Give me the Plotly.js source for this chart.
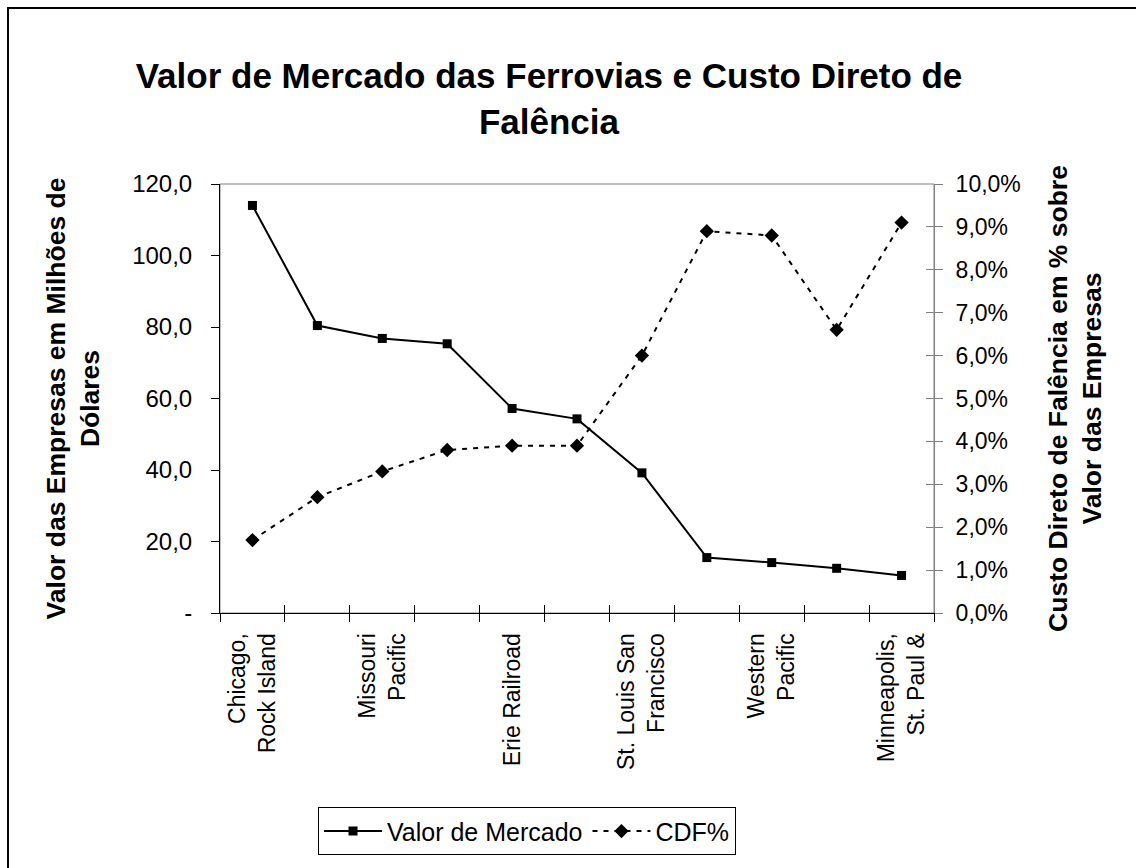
<!DOCTYPE html>
<html>
<head>
<meta charset="utf-8">
<script src="https://cdn.plot.ly/plotly-3.0.1.min.js"></script>
<style>
  html, body { margin: 0; padding: 0; background: #fff; overflow: hidden; }
  #chart { position: absolute; left: 0; top: 0; width: 1136px; height: 868px; }
  #frame { position: absolute; left: 7px; top: 7px; width: 1200px; height: 1000px;
           border: 2px solid #000; pointer-events: none; }
</style>
</head>
<body>
<div id="chart"></div>
<div id="frame"></div>
<script>
// ---- data ----
const railroadIndex = [1, 2, 3, 4, 5, 6, 7, 8, 9, 10, 11];
const valorMercado = [114.0, 80.4, 76.8, 75.3, 57.2, 54.3, 39.2, 15.5, 14.1, 12.5, 10.5];
const cdfPct = [0.017, 0.027, 0.033, 0.038, 0.039, 0.039, 0.060, 0.089, 0.088, 0.066, 0.091];
const labelIndex = [1, 3, 5, 7, 9, 11];
const categoryLabels = ["Chicago,<br>Rock Island", "Missouri<br>Pacific", "Erie Railroad",
                        "St. Louis San<br>Francisco", "Western<br>Pacific", "Minneapolis,<br>St. Paul &"];
const leftTickVals = [0, 20, 40, 60, 80, 100, 120];
const leftTickText = ["-", "20,0", "40,0", "60,0", "80,0", "100,0", "120,0"];
const seriesNames = ["Valor de Mercado", "CDF%"];

const boundaries = [];
for (let i = 0; i <= railroadIndex.length; i++) boundaries.push(railroadIndex[0] - 0.5 + i);
const xRange = [railroadIndex[0] - 0.5, railroadIndex[railroadIndex.length - 1] + 0.5];

const FONT = "Liberation Sans, Arial, sans-serif";

const traces = [
  { x: railroadIndex, y: valorMercado, name: seriesNames[0], type: "scatter", mode: "lines+markers",
    line: { color: "#000", width: 2 }, marker: { symbol: "square", size: 9, color: "#000" },
    xaxis: "x", yaxis: "y" },
  { x: railroadIndex, y: cdfPct, name: seriesNames[1], type: "scatter", mode: "lines+markers",
    line: { color: "#000", width: 2, dash: "5px,6px" }, marker: { symbol: "diamond", size: 11, color: "#000" },
    xaxis: "x", yaxis: "y2" },
  { x: [], y: [], xaxis: "x2", yaxis: "y", showlegend: false, hoverinfo: "skip" },
  { x: [], y: [], xaxis: "x3", yaxis: "y", showlegend: false, hoverinfo: "skip" },
  { x: [], y: [], xaxis: "x", yaxis: "y3", showlegend: false, hoverinfo: "skip" }
];

const layout = {
  width: 1136, height: 868,
  margin: { l: 220, r: 202, t: 184, b: 249, pad: 0 },
  paper_bgcolor: "#fff", plot_bgcolor: "#fff",
  separators: ",.",
  font: { family: FONT, size: 23, color: "#000" },
  showlegend: true,
  title: {
    text: "<b>Valor de Mercado das Ferrovias e Custo Direto de<br>Falência</b>",
    font: { family: FONT, size: 35, color: "#000" },
    x: 549 / 1136, xanchor: "center", xref: "container",
    y: 1 - 88 / 868, yanchor: "top", yref: "container"
  },
  xaxis: {
    range: xRange, tickmode: "array", tickvals: labelIndex, ticktext: categoryLabels,
    tickangle: -90, ticks: "", showgrid: false, zeroline: false,
    showline: true, linecolor: "#000", linewidth: 1,
    tickfont: { family: FONT, size: 23, color: "#000" }, ticklabelstandoff: 10
  },
  xaxis2: {
    overlaying: "x", anchor: "y", side: "bottom", range: xRange,
    tickmode: "array", tickvals: boundaries, ticks: "outside", ticklen: 8, tickcolor: "#000",
    showticklabels: false, showgrid: false, zeroline: false, showline: false
  },
  xaxis3: {
    overlaying: "x", anchor: "y", side: "bottom", range: xRange,
    tickmode: "array", tickvals: boundaries, ticks: "inside", ticklen: 8, tickcolor: "#000",
    showticklabels: false, showgrid: false, zeroline: false, showline: false
  },
  yaxis: {
    range: [0, 120], tickmode: "array", tickvals: leftTickVals, ticktext: leftTickText,
    ticks: "outside", ticklen: 8, tickcolor: "#000",
    showline: true, linecolor: "#000", linewidth: 1, showgrid: false, zeroline: false,
    tickfont: { family: FONT, size: 24, color: "#000" }, ticklabelstandoff: 14,
    title: { text: "<b>Valor das Empresas em Milhões de<br>Dólares</b>",
             font: { family: FONT, size: 26.5, color: "#000" }, standoff: 24 }
  },
  yaxis2: {
    overlaying: "y", side: "right", anchor: "x", range: [0, 0.1], dtick: 0.01, tick0: 0,
    tickformat: ".1%", ticks: "outside", ticklen: 8, tickcolor: "#808080",
    showline: true, linecolor: "#808080", linewidth: 1, showgrid: false, zeroline: false,
    tickfont: { family: FONT, size: 23, color: "#000" }, ticklabelstandoff: 8,
    title: { text: "<b>Custo Direto de Falência em % sobre<br>Valor das Empresas</b>",
             font: { family: FONT, size: 26.5, color: "#000" }, standoff: 28 }
  },
  yaxis3: {
    overlaying: "y", side: "right", anchor: "x", range: [0, 0.1], dtick: 0.01, tick0: 0,
    ticks: "inside", ticklen: 8, tickcolor: "#808080", showticklabels: false,
    showline: false, showgrid: false, zeroline: false
  },
  shapes: [
    { type: "rect", xref: "paper", yref: "paper", x0: 0, x1: 1, y0: 0, y1: 1,
      line: { color: "#808080", width: 1 }, layer: "below" }
  ],
  legend: {
    orientation: "h", x: (318 - 220) / 714, xanchor: "left", y: (619 - 816) / 435, yanchor: "top",
    bordercolor: "#000", borderwidth: 1, bgcolor: "#fff",
    font: { family: FONT, size: 25, color: "#000" }, itemwidth: 58, tracegroupgap: 0
  }
};

Plotly.newPlot("chart", traces, layout, { displayModeBar: false, staticPlot: true });
</script>
</body>
</html>
